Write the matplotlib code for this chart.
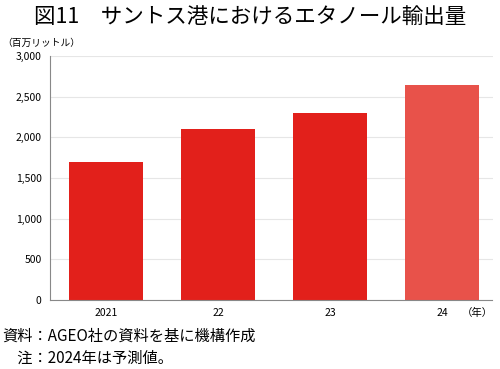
import matplotlib
matplotlib.use("Agg")
import matplotlib.pyplot as plt

plt.rcParams['font.family'] = ['Noto Sans CJK JP', 'DejaVu Sans']

years = ["2021", "22", "23", "24"]
volumes = [1700, 2100, 2300, 2650]
bar_colors = ["#e2201b", "#e2201b", "#e2201b", "#e8524a"]
yticks = [0, 500, 1000, 1500, 2000, 2500, 3000]

fig = plt.figure(figsize=(5, 3.69), dpi=100)
ax = fig.add_axes([0.1, 0.187, 0.885, 0.661])

ax.bar(range(len(years)), volumes, width=0.66, color=bar_colors, zorder=2)
ax.set_xlim(-0.5, 3.45)
ax.set_ylim(0, 3000)
ax.set_yticks(yticks)
ax.set_yticklabels([f"{v:,}" for v in yticks], fontsize=7.5)
ax.set_xticks(range(len(years)))
ax.set_xticklabels(years, fontsize=7.5)
ax.tick_params(length=0, pad=6)
ax.grid(axis="y", color="#e6e6e6", linewidth=0.8, zorder=0)
for s in ["top", "right"]:
    ax.spines[s].set_visible(False)
ax.spines["left"].set_color("#888888")
ax.spines["bottom"].set_color("#888888")

fig.text(0.5, 0.955, "図11　サントス港におけるエタノール輸出量", ha="center", va="center", fontsize=15.5)
fig.text(0.005, 0.885, "（百万リットル）", ha="left", va="center", fontsize=7)
fig.text(0.955, 0.152, "（年）", ha="center", va="center", fontsize=7.5)
fig.text(0.005, 0.09, "資料：AGEO社の資料を基に機構作成", ha="left", va="center", fontsize=11)
fig.text(0.005, 0.03, "　注：2024年は予測値。", ha="left", va="center", fontsize=11)

fig.savefig("out.png", dpi=100)
